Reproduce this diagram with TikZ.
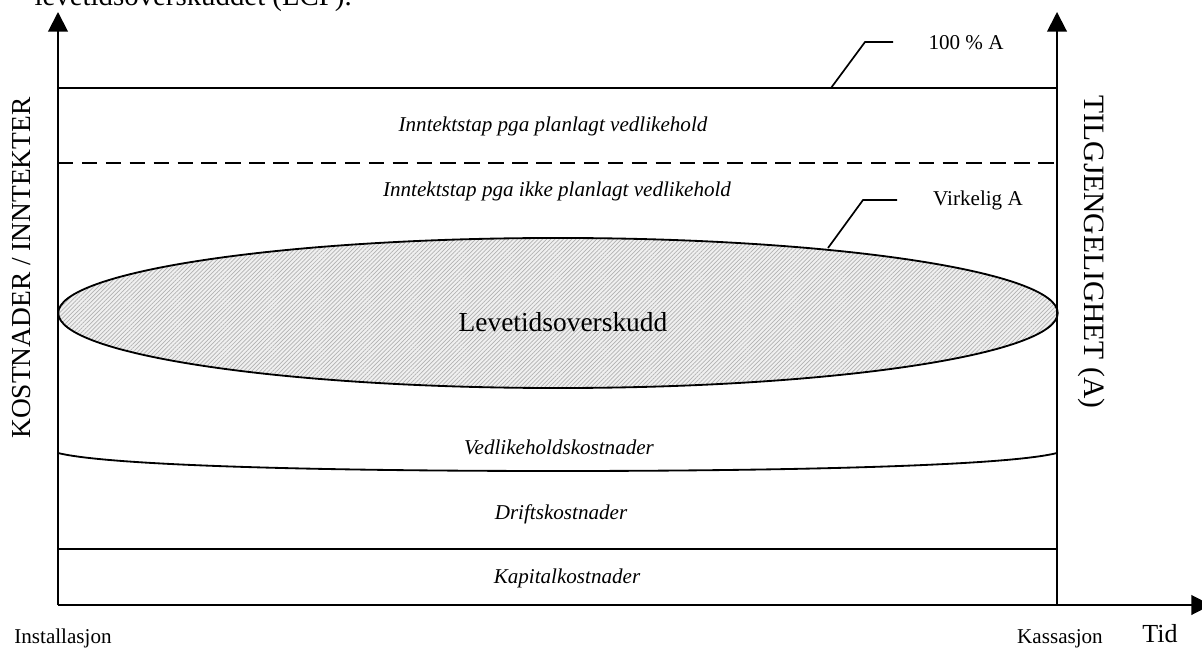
\documentclass[tikz,border=0pt]{standalone}
\usepackage{fontspec}
\setmainfont{Liberation Serif}
\usetikzlibrary{arrows.meta}
\usetikzlibrary{patterns.meta}
\usetikzlibrary{shapes.geometric}
\tikzstyle{lbl} = [inner sep=0pt, anchor=base, font=\fontsize{15}{15}\selectfont]
\tikzstyle{band} = [lbl, font=\fontsize{15}{15}\selectfont\itshape]
\tikzstyle{axtitle} = [inner sep=0pt, font=\fontsize{19.5}{19.5}\selectfont]
\tikzstyle{axis} = [line width=1.4pt, -{Triangle[length=14pt,width=14pt]}]
\tikzstyle{level} = [line width=1.3pt]

\begin{document}
\begin{tikzpicture}[x=0.025cm, y=-0.025cm,
  surplus/.style={ellipse, draw, line width=1.3pt, inner sep=0pt,
    minimum width=24.98cm, minimum height=3.75cm,
    preaction={fill=gray!12},
    pattern={Lines[angle=45, distance=2.1pt, line width=0.5pt]}, pattern color=gray!60},
  leader/.style={line width=1.2pt}]
\clip (0,0) rectangle (1202,648);

% Define coordinates
\coordinate (o)     at (58,605);
\coordinate (ytop)  at (58,12);
\coordinate (kas)   at (1057,605);
\coordinate (atop)  at (1057,12);
\coordinate (xend)  at (1211,605);
\coordinate (fullw) at (58,88);
\coordinate (fulle) at (1057,88);
\coordinate (plw)   at (58,163);
\coordinate (ple)   at (1057,163);
\coordinate (vw)    at (58,453);
\coordinate (vm)    at (558,471);
\coordinate (ve)    at (1057,453);
\coordinate (kw)    at (58,549);
\coordinate (ke)    at (1057,549);
\coordinate (fullf) at (831,88);
\coordinate (fullk) at (865,42);
\coordinate (fullt) at (893,42);
\coordinate (realf) at (828,248);
\coordinate (realk) at (863,200);
\coordinate (realt) at (897,200);

% Define nodes
\node[surplus]                                      (lcp)   at (558,313) {};
\node[lbl, font=\fontsize{19.5}{19.5}\selectfont]   (lcpt)  at (563,332) {Levetidsoverskudd};
\node[band]                                         (pl)    at (553,132) {Inntektstap pga planlagt vedlikehold};
\node[band]                                         (ipl)   at (557,197) {Inntektstap pga ikke planlagt vedlikehold};
\node[band]                                         (vedl)  at (559,454) {Vedlikeholdskostnader};
\node[band]                                         (drift) at (561,519) {Driftskostnader};
\node[band]                                         (kap)   at (567,583) {Kapitalkostnader};
\node[lbl]                                          (full)  at (966,50)  {100 \% A};
\node[lbl]                                          (real)  at (978,206) {Virkelig A};
\node[lbl]                                          (inst)  at (63,643)  {Installasjon};
\node[lbl]                                          (kass)  at (1060,643) {Kassasjon};
\node[lbl, font=\fontsize{18.5}{18.5}\selectfont]   (tid)   at (1160,642) {Tid};
\node[axtitle, rotate=90]                           (kost)  at (22,268)  {KOSTNADER / INNTEKTER};
\node[axtitle, rotate=-90, font=\fontsize{21}{21}\selectfont] (tilg) at (1092,252) {TILGJENGELIGHET (A)};
\node[lbl, anchor=base east, font=\fontsize{20.5}{20.5}\selectfont] (cap) at (352,6) {levetidsoverskuddet (LCP).};

% Lines
\draw[level] (fullw) -- (fulle);
\draw[level, dash pattern=on 11pt off 6pt] (plw) -- (ple);
\draw[level] (vw) .. controls (110,466) and (330,471) .. (vm)
                  .. controls (786,471) and (1006,466) .. (ve);
\draw[level] (kw) -- (ke);
\draw[leader] (fullf) -- (fullk) -- (fullt);
\draw[leader] (realf) -- (realk) -- (realt);

% Axes
\draw[axis] (o)   -- (ytop);
\draw[axis] (kas) -- (atop);
\draw[axis] (o)   -- (xend);
\end{tikzpicture}
\end{document}
